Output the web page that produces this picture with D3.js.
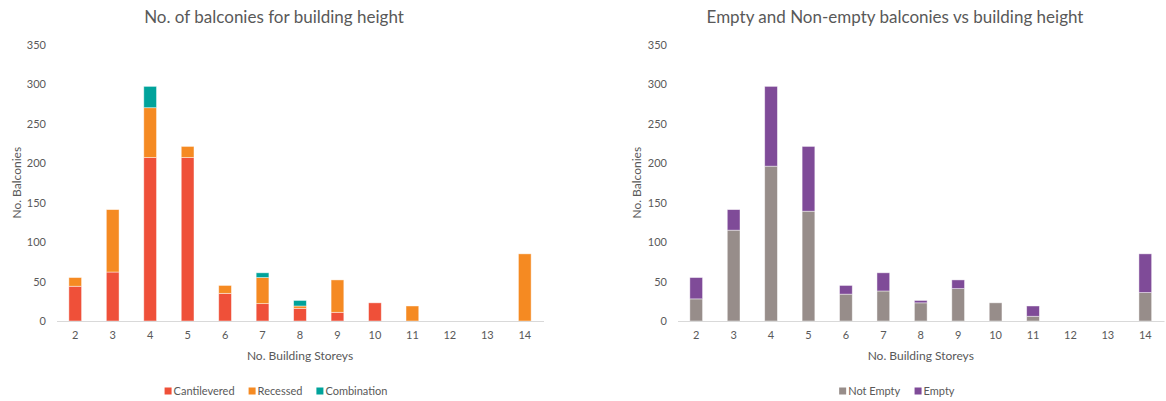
<!DOCTYPE html>
<html>
<head>
<meta charset="utf-8">
<script src="https://cdn.jsdelivr.net/npm/d3@7"></script>
<style>
  body { margin: 0; background: #fff; }
  svg { display: block; font-family: Lato, "Open Sans", sans-serif; }
</style>
</head>
<body>
<svg id="chart" width="1166" height="401"></svg>
<script>
const storeys = ["2","3","4","5","6","7","8","9","10","11","12","13","14"];
const yTicks = [0, 50, 100, 150, 200, 250, 300, 350];

// Chart 1: balcony types
const cantilevered = [44, 62, 207, 207, 35, 22, 16, 11, 23, 0, 0, 0, 0];
const recessed     = [11, 79, 63, 14, 10, 33, 3, 41, 0, 19, 0, 0, 85];
const combination  = [0, 0, 27, 0, 0, 6, 7, 0, 0, 0, 0, 0, 0];

// Chart 2: empty vs not empty
const notEmpty = [28, 115, 196, 139, 34, 38, 23, 41, 23, 6, 0, 0, 36];
const empty    = [27, 26, 101, 82, 11, 23, 3, 11, 0, 13, 0, 0, 49];

const svg = d3.select("#chart");
const textColor = "#595959";

function drawChart(opts) {
  const { left, right, top, bottom, title, titleX, series, legendX, yAxisTitleX, tickX } = opts;
  const g = svg.append("g");
  const x = d3.scaleBand().domain(storeys).range([left, right]).paddingInner(0.66).paddingOuter(0.33);
  const y = d3.scaleLinear().domain([0, 350]).range([bottom, top]);

  const rows = storeys.map((s, i) => {
    const r = { storey: s };
    series.forEach(se => r[se.name] = se.values[i]);
    return r;
  });
  const stack = d3.stack().keys(series.map(s => s.name))(rows);

  stack.forEach((layer, li) => {
    g.append("g").selectAll("rect").data(layer.filter(d => d[1] - d[0] > 0)).join("rect")
      .attr("x", d => x(d.data.storey))
      .attr("width", x.bandwidth())
      .attr("y", d => y(d[1]))
      .attr("height", d => y(d[0]) - y(d[1]))
      .attr("fill", series[li].color)
      .attr("stroke", "rgba(255,255,255,0.55)")
      .attr("stroke-width", 0.8);
  });

  const xAxis = d3.axisBottom(x).tickSize(0).tickPadding(10);
  const xa = g.append("g").attr("transform", `translate(0,${bottom})`).call(xAxis);
  xa.select(".domain").attr("stroke", "#d9d9d9").attr("stroke-width", 1);
  xa.selectAll("text").attr("fill", textColor).attr("font-size", 11).attr("font-family", "Lato, 'Open Sans', sans-serif");

  const yAxis = d3.axisLeft(y).tickValues(yTicks).tickSize(0).tickPadding(0);
  const ya = g.append("g").attr("transform", `translate(${tickX},0)`).call(yAxis);
  ya.select(".domain").remove();
  ya.selectAll("text").attr("fill", textColor).attr("font-size", 11).attr("font-family", "Lato, 'Open Sans', sans-serif");

  g.append("text").attr("x", titleX).attr("y", 23).attr("text-anchor", "middle")
    .attr("fill", textColor).attr("font-size", 17).attr("font-weight", 400).text(title);

  g.append("text").attr("x", (left + right) / 2).attr("y", 360).attr("text-anchor", "middle")
    .attr("fill", textColor).attr("font-size", 12).text("No. Building Storeys");

  g.append("text").attr("transform", `translate(${yAxisTitleX},${(top + bottom) / 2}) rotate(-90)`)
    .attr("text-anchor", "middle").attr("dy", "0.35em")
    .attr("fill", textColor).attr("font-size", 12).text("No. Balconies");

  const lg = g.append("g").attr("transform", `translate(0,391)`);
  const items = lg.selectAll("g").data(series).join("g");
  items.append("rect").attr("width", 7).attr("height", 7).attr("y", -3.5).attr("fill", d => d.color);
  items.append("text").attr("x", 9).attr("dy", "0.35em").attr("fill", textColor).attr("font-size", 11).text(d => d.name);
  let offs = [];
  let cx = 0;
  items.each(function(d) {
    const w = this.getBBox().width;
    offs.push(cx);
    cx += w + 14;
  });
  const total = cx - 14;
  items.attr("transform", (d, i) => `translate(${legendX - total / 2 + offs[i]},0)`);
}

drawChart({
  left: 56.5, right: 543.5, top: 44.5, bottom: 321,
  title: "No. of balconies for building height", titleX: 274,
  series: [
    { name: "Cantilevered", values: cantilevered, color: "#EF5039" },
    { name: "Recessed", values: recessed, color: "#F58A22" },
    { name: "Combination", values: combination, color: "#00A39B" }
  ],
  legendX: 276, yAxisTitleX: 17, tickX: 46
});

drawChart({
  left: 677.5, right: 1164, top: 44.5, bottom: 321,
  title: "Empty and Non-empty balconies vs building height", titleX: 895,
  series: [
    { name: "Not Empty", values: notEmpty, color: "#978D8A" },
    { name: "Empty", values: empty, color: "#7F4B98" }
  ],
  legendX: 897, yAxisTitleX: 637, tickX: 667
});
</script>
</body>
</html>
